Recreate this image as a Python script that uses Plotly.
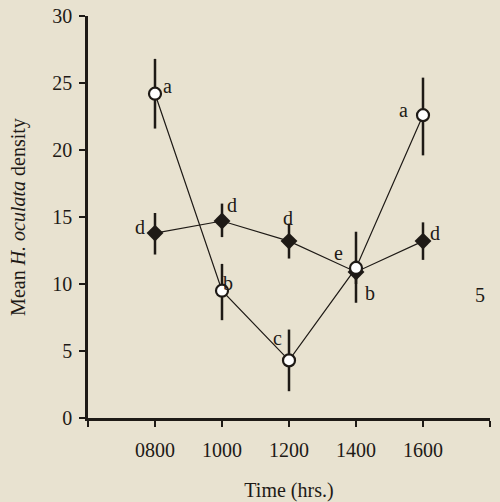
import plotly.graph_objects as go

times = [800, 1000, 1200, 1400, 1600]
tick_vals = [600, 800, 1000, 1200, 1400, 1600, 1800]
tick_text = ["", "0800", "1000", "1200", "1400", "1600", ""]

# open circles series
circ_mean = [24.2, 9.5, 4.3, 11.2, 22.6]
circ_hi = [26.8, 11.5, 6.6, 13.9, 25.4]
circ_lo = [21.6, 7.3, 2.0, 8.6, 19.6]

# filled diamonds series
dia_mean = [13.8, 14.7, 13.2, 10.9, 13.2]
dia_hi = [15.3, 16.0, 14.5, 11.8, 14.6]
dia_lo = [12.2, 13.5, 11.9, 10.0, 11.8]

# letter labels: (x, y, text)
lab_x = [838, 755, 1018, 1030, 1197, 1167, 1349, 1442, 1543, 1636, 1770]
lab_y = [24.8, 14.25, 10.1, 15.9, 14.9, 6.0, 12.3, 9.3, 23.0, 13.8, 9.2]
lab_t = ["a", "d", "b", "d", "d", "c", "e", "b", "a", "d", "5"]

ink = "#1e1a16"
bg = "#e8e2d0"
font = "Liberation Serif, Times New Roman, serif"

fig = go.Figure()
fig.add_trace(go.Scatter(
    x=times, y=dia_mean, mode="lines+markers",
    line=dict(color=ink, width=1.2),
    marker=dict(symbol="diamond", size=13, color=ink),
    error_y=dict(type="data", symmetric=False,
                 array=[h - m for h, m in zip(dia_hi, dia_mean)],
                 arrayminus=[m - l for l, m in zip(dia_lo, dia_mean)],
                 thickness=2.5, width=0, color=ink),
    showlegend=False, cliponaxis=False))
fig.add_trace(go.Scatter(
    x=times, y=circ_mean, mode="lines+markers",
    line=dict(color=ink, width=1.2),
    marker=dict(symbol="circle", size=12, color="white",
                line=dict(color=ink, width=2.2)),
    error_y=dict(type="data", symmetric=False,
                 array=[h - m for h, m in zip(circ_hi, circ_mean)],
                 arrayminus=[m - l for l, m in zip(circ_lo, circ_mean)],
                 thickness=2.5, width=0, color=ink),
    showlegend=False, cliponaxis=False))

for x, y, t in zip(lab_x, lab_y, lab_t):
    fig.add_annotation(x=x, y=y, text=t, showarrow=False,
                       xref="x", yref="y",
                       font=dict(family=font, size=20, color=ink))

fig.update_layout(
    width=500, height=502,
    margin=dict(l=88, r=10, t=16, b=84),
    paper_bgcolor=bg, plot_bgcolor=bg,
    font=dict(family=font, size=20, color=ink),
    xaxis=dict(range=[600, 1800], tickmode="array", tickvals=tick_vals,
               ticktext=tick_text, ticks="outside", ticklen=6, tickwidth=1.5,
               tickcolor=ink, showline=True, linecolor=ink, linewidth=2.5,
               showgrid=False, zeroline=False, automargin=False,
               ticklabelstandoff=6,
               title=dict(text="Time (hrs.)", standoff=30,
                          font=dict(family=font, size=20))),
    yaxis=dict(range=[0, 30], tickmode="array", tickvals=[0, 5, 10, 15, 20, 25, 30],
               ticks="outside", ticklen=6, tickwidth=1.5, tickcolor=ink,
               showline=True, linecolor=ink, linewidth=2.5,
               showgrid=False, zeroline=False, automargin=False,
               ticklabelstandoff=3,
               title=dict(text="Mean <i>H. oculata</i> density", standoff=22,
                          font=dict(family=font, size=20))),
)

fig.write_html("out.html", config={"displayModeBar": False},
               post_script="document.body.style.margin='0';")
